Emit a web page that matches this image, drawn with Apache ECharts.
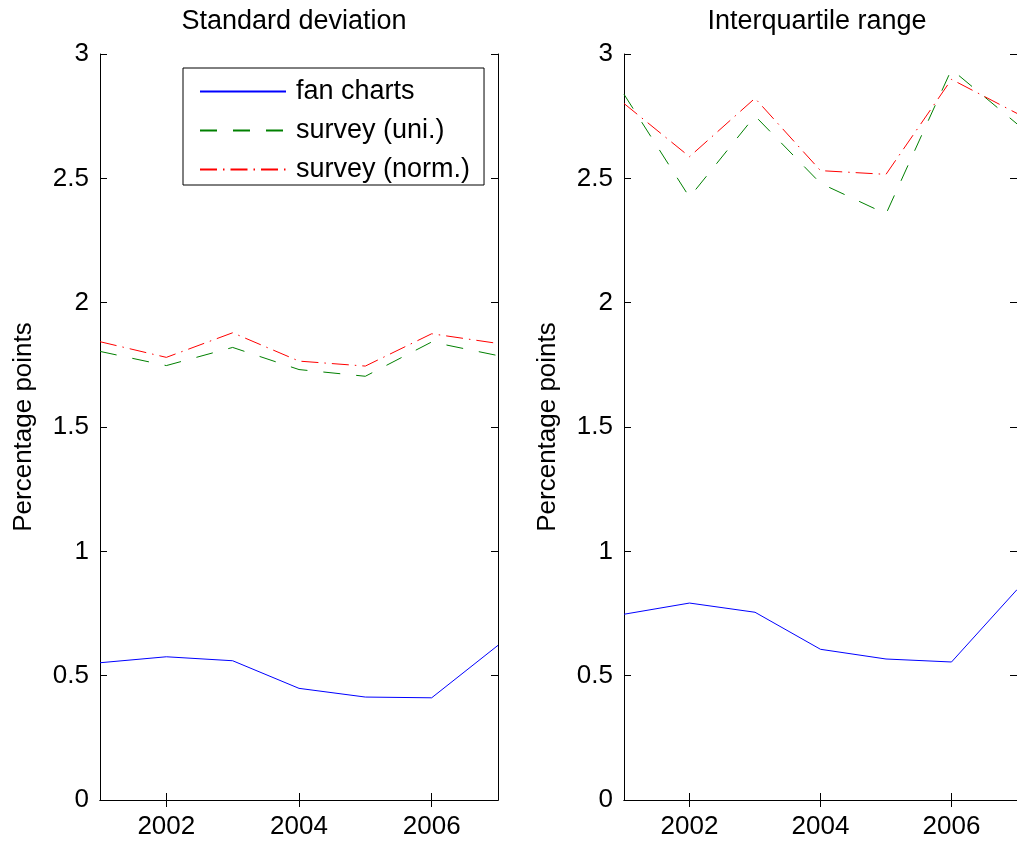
<!DOCTYPE html>
<html>
<head>
<meta charset="utf-8">
<script src="https://cdn.jsdelivr.net/npm/echarts@6/dist/echarts.min.js"></script>
<style>
html,body{margin:0;padding:0;background:#fff;}
#chart{width:1017px;height:845px;}
</style>
</head>
<body>
<div id="chart"></div>
<script>
var years = [2001, 2002, 2003, 2004, 2005, 2006, 2007];
var xTicks = [2002, 2004, 2006];
var seriesNames = ['fan charts', 'survey (uni.)', 'survey (norm.)'];
var panelTitles = ['Standard deviation', 'Interquartile range'];
var yLabel = 'Percentage points';

var sdFan  = [0.552, 0.576, 0.560, 0.449, 0.414, 0.411, 0.622];
var sdUni  = [1.804, 1.747, 1.820, 1.731, 1.704, 1.842, 1.787];
var sdNorm = [1.843, 1.780, 1.879, 1.765, 1.745, 1.875, 1.836];

var iqrFan  = [0.747, 0.792, 0.755, 0.606, 0.567, 0.555, 0.846];
var iqrUni  = [2.838, 2.424, 2.751, 2.480, 2.357, 2.938, 2.719];
var iqrNorm = [2.801, 2.587, 2.822, 2.531, 2.516, 2.898, 2.761];

var FONT = 'Liberation Sans, Arial, sans-serif';
var FS = 26;
var colors = ['#0000ff', '#008000', '#ff0000'];
var dashes = ['solid', [17, 16], [17, 6, 1.5, 6]];

function pairs(v) { return years.map(function (y, i) { return [y, v[i]]; }); }

var grids = [
  { left: 100, top: 54, width: 398, height: 746 },
  { left: 624, top: 54, width: 398, height: 746 }
];

var xAxes = [], yAxes = [];
grids.forEach(function (g, gi) {
  xAxes.push({
    type: 'value', gridIndex: gi, position: 'bottom', min: 2001, max: 2007,
    axisLine: { lineStyle: { color: '#000', width: 1 } },
    axisTick: { inside: true, length: 7, customValues: xTicks, lineStyle: { color: '#000' } },
    axisLabel: { customValues: xTicks, color: '#000', fontSize: FS, fontFamily: FONT, margin: 14,
      formatter: function (v) { return String(v); } },
    splitLine: { show: false }
  });
  xAxes.push({
    type: 'value', gridIndex: gi, position: 'top', min: 2001, max: 2007,
    axisLine: { lineStyle: { color: '#000', width: 1 } },
    axisTick: { inside: true, length: 7, customValues: xTicks, lineStyle: { color: '#000' } },
    axisLabel: { show: false },
    splitLine: { show: false }
  });
  yAxes.push({
    type: 'value', gridIndex: gi, position: 'left', min: 0, max: 3, interval: 0.5,
    name: yLabel, nameLocation: 'middle', nameGap: 63,
    nameTextStyle: { color: '#000', fontSize: FS, fontFamily: FONT },
    axisLine: { show: true, lineStyle: { color: '#000', width: 1 } },
    axisTick: { show: true, inside: true, length: 7, lineStyle: { color: '#000' } },
    axisLabel: { color: '#000', fontSize: FS, fontFamily: FONT, margin: 11 },
    splitLine: { show: false }
  });
  yAxes.push({
    type: 'value', gridIndex: gi, position: 'right', min: 0, max: 3, interval: 0.5,
    axisLine: { show: true, lineStyle: { color: '#000', width: 1 } },
    axisTick: { show: true, inside: true, length: 7, lineStyle: { color: '#000' } },
    axisLabel: { show: false },
    splitLine: { show: false }
  });
});

var panelData = [[sdFan, sdUni, sdNorm], [iqrFan, iqrUni, iqrNorm]];
var series = [];
panelData.forEach(function (arrs, gi) {
  arrs.forEach(function (v, si) {
    series.push({
      name: seriesNames[si], type: 'line', xAxisIndex: gi * 2, yAxisIndex: gi * 2,
      data: pairs(v), symbol: 'none', silent: true, animation: false,
      lineStyle: { color: colors[si], width: 1, type: dashes[si] },
      itemStyle: { color: colors[si] }
    });
  });
});

var chart = echarts.init(document.getElementById('chart'), null, { renderer: 'canvas' });
chart.setOption({
  animation: false,
  backgroundColor: '#fff',
  grid: grids,
  xAxis: xAxes,
  yAxis: yAxes,
  legend: {
    data: seriesNames, orient: 'vertical', left: 183, top: 68,
    padding: [10, 14, 2, 16], itemGap: 12, itemWidth: 86, itemHeight: 12,
    backgroundColor: '#fff', borderColor: '#000', borderWidth: 1, borderRadius: 0,
    itemStyle: { color: 'rgba(0,0,0,0)', borderWidth: 0, opacity: 0 },
    textStyle: { color: '#000', fontSize: 27, fontFamily: FONT, padding: [0, 0, 0, 5] },
    selectedMode: false
  },
  graphic: [
    { type: 'text', x: 294, y: 22, style: { text: panelTitles[0], fontSize: 27, fontFamily: FONT, fill: '#000', align: 'center', verticalAlign: 'middle' } },
    { type: 'text', x: 817, y: 22, style: { text: panelTitles[1], fontSize: 27, fontFamily: FONT, fill: '#000', align: 'center', verticalAlign: 'middle' } }
  ],
  series: series
});
</script>
</body>
</html>
